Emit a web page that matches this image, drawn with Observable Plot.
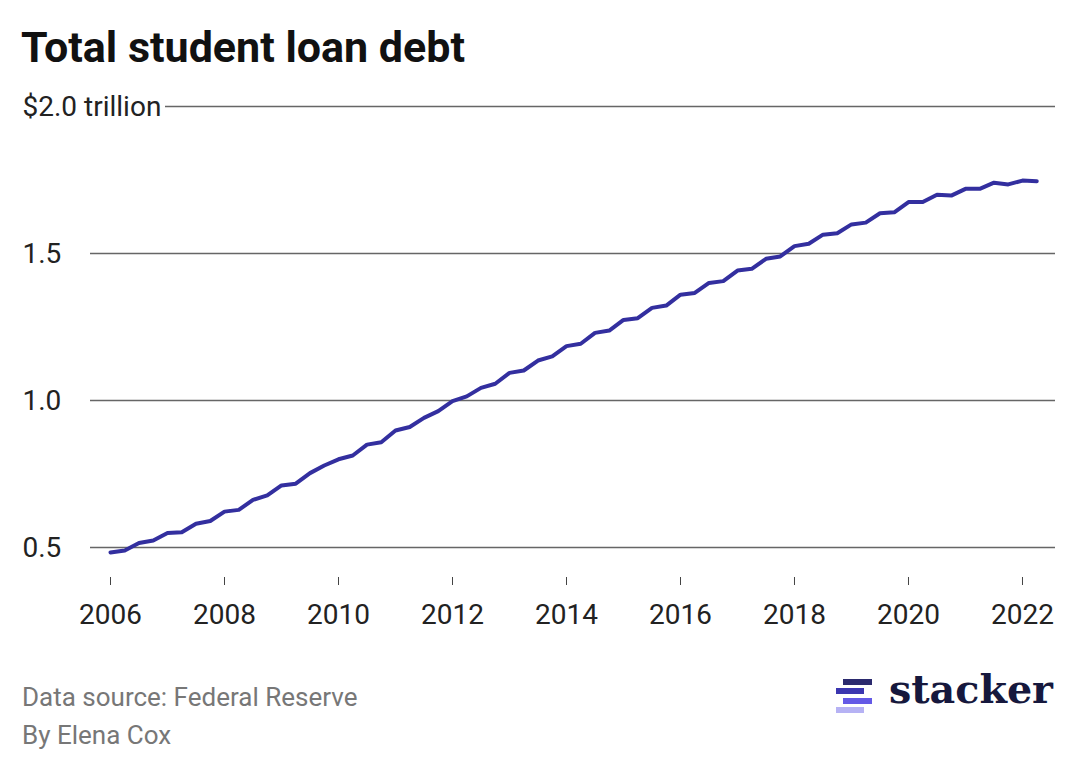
<!DOCTYPE html>
<html><head><meta charset="utf-8">
<script src="https://cdn.jsdelivr.net/npm/d3@7"></script>
<script src="https://cdn.jsdelivr.net/npm/@observablehq/plot@0.6"></script>
<style>
body{margin:0;background:#fff;font-family:Roboto,sans-serif;}
#wrap{position:relative;width:1080px;height:770px;overflow:hidden;background:#fff;}
#title{position:absolute;left:21px;top:26px;font-size:43px;font-weight:700;color:#111;line-height:1;white-space:nowrap;}
#chart{position:absolute;left:0;top:80px;}
.foot{position:absolute;left:22px;font-size:26px;color:#777;line-height:1;white-space:nowrap;}
#logo{position:absolute;left:830px;top:655px;}
</style></head>
<body><div id="wrap">
<div id="title">Total student loan debt</div>
<div id="chart"></div>
<div class="foot" style="top:684px">Data source: Federal Reserve</div>
<div class="foot" style="top:722px">By Elena Cox</div>
<svg id="logo" width="245" height="75" viewBox="0 0 245 75">
  <rect x="13" y="24" width="29" height="6" fill="#2b2a6e"/>
  <rect x="6" y="33" width="28" height="6" fill="#3b36b0"/>
  <rect x="13" y="43" width="29" height="6" fill="#6459e6"/>
  <rect x="6" y="52" width="28" height="6" fill="#b6b2f4"/>
  <text x="59" y="48" font-family="DejaVu Serif" font-weight="700" font-size="40" fill="#16183d" textLength="164" lengthAdjust="spacingAndGlyphs">stacker</text>
</svg>
</div>
<script>
const quarterLabels = [
"2006-Q1","2006-Q2","2006-Q3","2006-Q4","2007-Q1","2007-Q2","2007-Q3","2007-Q4",
"2008-Q1","2008-Q2","2008-Q3","2008-Q4","2009-Q1","2009-Q2","2009-Q3","2009-Q4",
"2010-Q1","2010-Q2","2010-Q3","2010-Q4","2011-Q1","2011-Q2","2011-Q3","2011-Q4",
"2012-Q1","2012-Q2","2012-Q3","2012-Q4","2013-Q1","2013-Q2","2013-Q3","2013-Q4",
"2014-Q1","2014-Q2","2014-Q3","2014-Q4","2015-Q1","2015-Q2","2015-Q3","2015-Q4",
"2016-Q1","2016-Q2","2016-Q3","2016-Q4","2017-Q1","2017-Q2","2017-Q3","2017-Q4",
"2018-Q1","2018-Q2","2018-Q3","2018-Q4","2019-Q1","2019-Q2","2019-Q3","2019-Q4",
"2020-Q1","2020-Q2","2020-Q3","2020-Q4","2021-Q1","2021-Q2","2021-Q3","2021-Q4",
"2022-Q1","2022-Q2"];
const debtTrillions = [
0.483,0.490,0.515,0.524, 0.549,0.552,0.581,0.590,
0.622,0.628,0.662,0.677, 0.711,0.717,0.753,0.779,
0.800,0.813,0.850,0.858, 0.898,0.910,0.941,0.964,
0.998,1.014,1.043,1.057, 1.094,1.102,1.136,1.150,
1.185,1.193,1.230,1.238, 1.274,1.280,1.315,1.323,
1.360,1.366,1.400,1.406, 1.442,1.448,1.482,1.490,
1.525,1.533,1.564,1.569, 1.599,1.605,1.637,1.640,
1.675,1.675,1.700,1.697, 1.720,1.720,1.741,1.735,
1.748,1.746];
const yTicks = [0.5, 1.0, 1.5, 2.0];
const yTickLabels = ["0.5", "1.0", "1.5", "$2.0 trillion"];
const xTicks = [2006, 2008, 2010, 2012, 2014, 2016, 2018, 2020, 2022];

const data = quarterLabels.map((q, i) => {
  const [yr, qq] = q.split("-Q");
  return {t: +yr + (+qq - 1) / 4, v: debtTrillions[i]};
});

const chart = Plot.plot({
  width: 1080, height: 560,
  marginTop: 26, marginBottom: 63, marginLeft: 90, marginRight: 25,
  x: {domain: [2005.649, 2022.579], label: null},
  y: {domain: [0.5, 2.0], insetBottom: 30, axis: null},
  style: {fontFamily: "Roboto, sans-serif", fontSize: "28px", color: "#222", background: "white"},
  marks: [
    Plot.ruleY(yTicks.filter(d => d < 2), {stroke: "#666", strokeWidth: 1.4}),
    Plot.ruleY(yTicks.filter(d => d >= 2), {stroke: "#666", strokeWidth: 1.4, insetLeft: 75}),
    Plot.text(yTicks, {y: d => d, text: (d, i) => yTickLabels[i], frameAnchor: "left", textAnchor: "start", dx: -68, dy: 1, fontSize: 28, fill: "#222"}),
    Plot.axisX(xTicks, {tickSize: 8, tickPadding: 19, tickFormat: d => String(d), fontSize: 28, stroke: "#444", label: null}),
    Plot.line(data, {x: "t", y: "v", stroke: "#332f9f", strokeWidth: 4, strokeLinejoin: "round", strokeLinecap: "round"})
  ]
});
document.getElementById("chart").appendChild(chart);
</script>
</body></html>
